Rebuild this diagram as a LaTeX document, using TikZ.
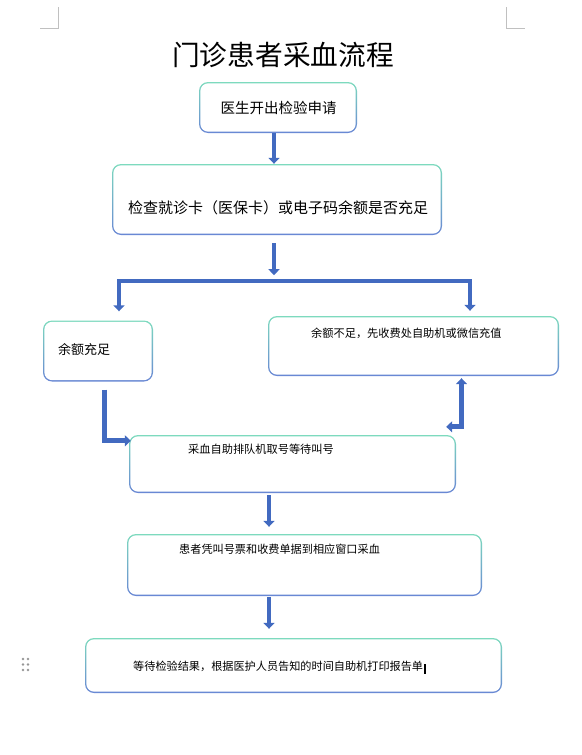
\documentclass[tikz,border=0pt]{standalone}
\usepackage{fontspec}
\setmainfont{Noto Sans CJK SC}
\usetikzlibrary{arrows.meta,calc}
\definecolor{bteal}{RGB}{125,218,190}
\definecolor{bblue}{RGB}{105,135,212}
\definecolor{arr}{RGB}{66,106,192}
\definecolor{cornermark}{RGB}{192,192,192}
\definecolor{handle}{RGB}{150,150,150}
\newcommand{\fsz}[1]{\fontsize{#1}{#1}\selectfont}
\begin{document}
\begin{tikzpicture}[x=1pt,y=-1pt,
  box/.style={rectangle, inner sep=0pt, rounded corners=9pt,
    path picture={
      \shade[top color=bteal, bottom color=bblue]
        (path picture bounding box.south west) rectangle (path picture bounding box.north east);
      \fill[white, rounded corners=8pt]
        ([shift={(1.3pt,1.3pt)}]path picture bounding box.south west) rectangle
        ([shift={(-1.3pt,-1.3pt)}]path picture bounding box.north east);
    }},
  txt/.style={inner sep=0pt, text=black},
  arrow/.style={draw=arr, line width=4.8pt, line join=miter,
    -{Triangle[width=11pt,length=6pt]}},
  dblarrow/.style={draw=arr, line width=4.8pt, line join=miter,
    {Triangle[width=11pt,length=6pt]}-{Triangle[width=11pt,length=6pt]}},
  cmark/.style={draw=cornermark, line width=0.8pt}
]
\useasboundingbox (0,0) rectangle (581,755);

% corner marks
\coordinate (cl1) at (58,7);
\coordinate (cl2) at (58,28);
\coordinate (cl3) at (40,28);
\draw[cmark] (cl1) -- (cl2) -- (cl3);
\coordinate (cr1) at (506,7);
\coordinate (cr2) at (506,28);
\coordinate (cr3) at (525,28);
\draw[cmark] (cr1) -- (cr2) -- (cr3);

% title
\node[txt, font=\fsz{27.7}] (title) at (283,55) {门诊患者采血流程};

% boxes
\node[box, minimum width=158pt, minimum height=51pt] (b1) at (278,107.5) {};
\node[box, minimum width=330pt, minimum height=71pt] (b2) at (277,199.5) {};
\node[box, minimum width=110pt, minimum height=61pt] (b3) at (98,351) {};
\node[box, minimum width=291pt, minimum height=60pt] (b4) at (413.5,346) {};
\node[box, minimum width=327pt, minimum height=58pt] (b5) at (292.5,464) {};
\node[box, minimum width=355pt, minimum height=62pt] (b6) at (304.5,565) {};
\node[box, minimum width=417pt, minimum height=55pt] (b7) at (293.5,665.5) {};

% texts
\node[txt, font=\fsz{14.5}] (t1) at (278.5,108) {医生开出检验申请};
\node[txt, font=\fsz{15}] (t2) at (278,208) {检查就诊卡（医保卡）或电子码余额是否充足};
\node[txt, font=\fsz{13}, anchor=west] (t3) at (58,350) {余额充足};
\node[txt, font=\fsz{11.2}, anchor=west] (t4) at (311,333) {余额不足，先收费处自助机或微信充值};
\node[txt, font=\fsz{11.2}, anchor=west] (t5) at (188,449) {采血自助排队机取号等待叫号};
\node[txt, font=\fsz{11.15}, anchor=west] (t6) at (179,549) {患者凭叫号票和收费单据到相应窗口采血};
\node[txt, font=\fsz{11.15}, anchor=west] (t7) at (133,666) {等待检验结果，根据医护人员告知的时间自助机打印报告单};
% text cursor
\node[fill=black, inner sep=0pt, minimum width=1.8pt, minimum height=10pt] (cursor) at (425,668.5) {};

% connectors
\draw[arrow] ($(b1.south)+(-4,0)$) -- ($(b2.north)+(-3,0)$);
\coordinate (a2s) at ($(b2.south)+(-3,8)$);
\coordinate (a2e) at ($(b2.south)+(-3,40)$);
\draw[arrow] (a2s) -- (a2e);
\coordinate (barL) at (119,281);
\coordinate (barR) at (470,281);
\draw[dblarrow] ($(b3.north)+(21,-9)$) -- (barL) -- (barR) -- ($(b4.north)+(56.5,-5)$);
\draw[arrow] ($(b3.south)+(6.5,8)$) |- ($(b5.north west)+(2,6)$);
\draw[dblarrow] ($(b5.north east)+(-10,-8)$) -| ($(b4.south)+(48,2)$);
\draw[arrow] ($(b5.south)+(-23.5,2)$) -- ($(b6.north)+(-35.5,-7)$);
\draw[arrow] ($(b6.south)+(-35.5,1)$) -- ($(b7.north)+(-24.5,-9)$);

% drag handle dots
\foreach \i/\xx/\yy in {1/23/659,2/28/659,3/23/664.5,4/28/664.5,5/23/670,6/28/670}{
  \fill[handle] (\xx,\yy) circle (1.3pt);
}
\end{tikzpicture}
\end{document}
